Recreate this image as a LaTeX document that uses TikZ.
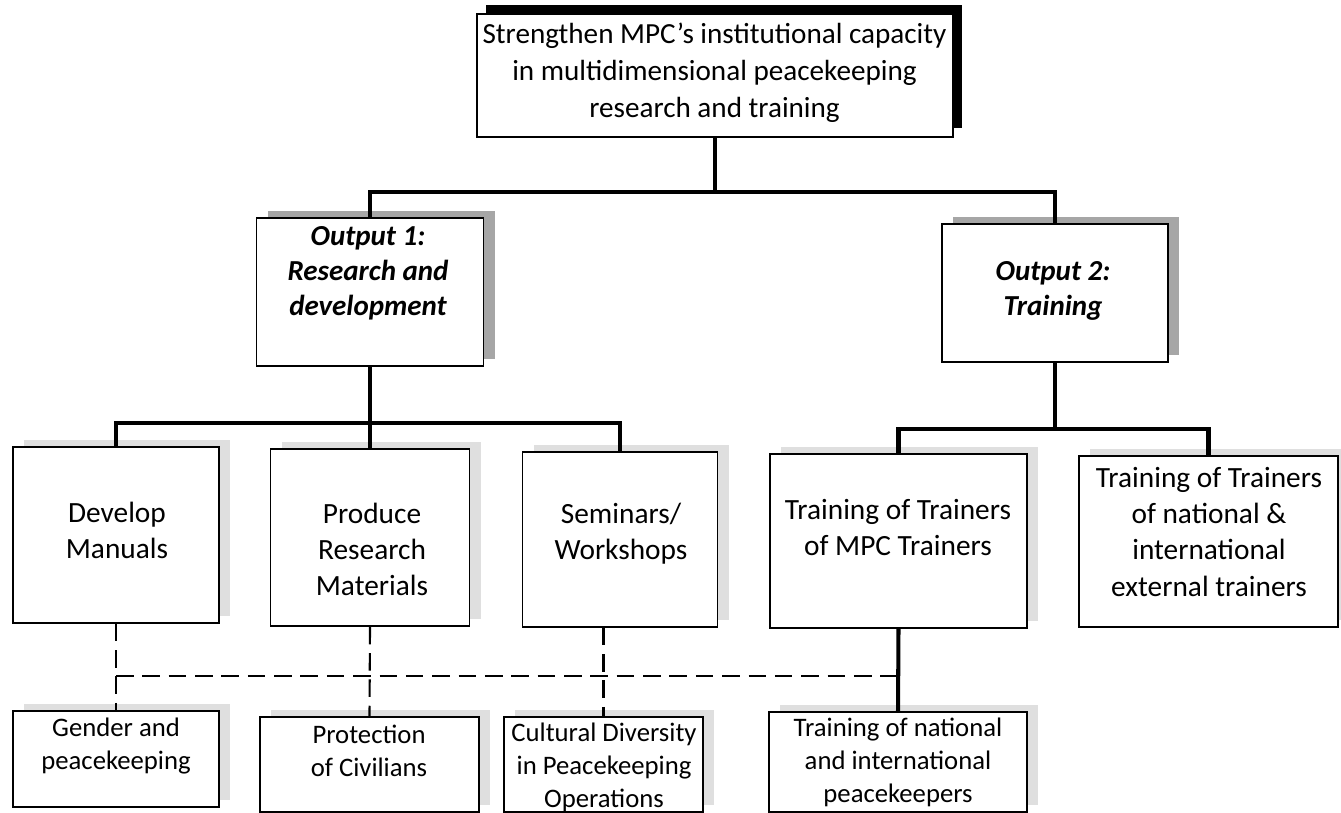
\documentclass[tikz,border=0pt]{standalone}
\usepackage{fontspec}
\setmainfont{Carlito}
\usetikzlibrary{shadows,calc}

\tikzset{
  caja/.style={draw, line width=0.8pt, fill=white, inner sep=0pt},
  cajasup/.style={caja,
    drop shadow={shadow xshift=5pt, shadow yshift=5pt, fill=black, opacity=1}},
  cajaout/.style={caja,
    drop shadow={shadow xshift=6.5pt, shadow yshift=4pt, fill=gray!70, opacity=1}},
  cajasub/.style={caja,
    drop shadow={shadow xshift=6.5pt, shadow yshift=4pt, fill=gray!25, opacity=1}},
  enlace/.style={line width=2.3pt},
  punteado/.style={line width=1.2pt, dash pattern=on 10pt off 5pt},
  textosup/.style={align=center, font=\fontsize{16.6}{21.3}\selectfont},
  textoout/.style={align=center, font=\fontsize{16.5}{19.9}\selectfont\bfseries\itshape},
  textomed/.style={align=center, font=\fontsize{16.7}{20.5}\selectfont},
  textoinf/.style={align=center, font=\fontsize{15.2}{18.8}\selectfont}
}

\begin{document}
\begin{tikzpicture}[x=0.02cm, y=-0.02cm]

  \useasboundingbox (0,0) rectangle (1341,813);

  % Objetivo
  \node[cajasup, minimum width=9.52cm, minimum height=2.46cm]
    (obj) at (715,75.5) {};

  % Productos
  \node[cajaout, minimum width=4.54cm, minimum height=2.96cm]
    (out1) at (370,292) {};
  \node[cajaout, minimum width=4.52cm, minimum height=2.76cm]
    (out2) at (1055,293) {};

  % Actividades
  \node[cajasub, minimum width=4.12cm, minimum height=3.52cm]
    (dev) at (116,535) {};
  \node[cajasub, minimum width=3.98cm, minimum height=3.54cm]
    (prod) at (370,537.5) {};
  \node[cajasub, minimum width=3.90cm, minimum height=3.50cm]
    (sem) at (620,539.5) {};
  \node[cajasub, minimum width=5.14cm, minimum height=3.48cm]
    (tmpc) at (898.5,541) {};
  \node[cajasub, minimum width=5.18cm, minimum height=3.42cm]
    (text) at (1208.5,541.5) {};

  % Temas
  \node[cajasub, minimum width=4.12cm, minimum height=1.92cm]
    (gender) at (116,759) {};
  \node[cajasub, minimum width=4.38cm, minimum height=1.90cm]
    (prot) at (369.5,764.5) {};
  \node[cajasub, minimum width=3.98cm, minimum height=1.90cm]
    (cult) at (603.5,764.5) {};
  \node[cajasub, minimum width=5.16cm, minimum height=2.00cm]
    (tnat) at (898,762) {};

  % Enlaces
  \draw[enlace] (obj.south) -- ++(0,54) -| (out1.north);
  \draw[enlace] (obj.south) -- ++(0,54) -| (out2.north);

  \draw[enlace] (out1.south) -- ++(0,56) -| (dev.north);
  \draw[enlace] (out1.south) -- ++(0,56) -| (prod.north);
  \draw[enlace] (out1.south) -- ++(0,56) -| (sem.north);

  \draw[enlace] (out2.south) -- ++(0,66) -| (tmpc.north);
  \draw[enlace] (out2.south) -- ++(0,66) -| (text.north);

  \draw[enlace] (tmpc.south) -- (tnat.north);

  % Enlaces punteados
  \draw[punteado] (dev.south) -- (gender.north);
  \draw[punteado] (prod.south) -- (prot.north);
  \draw[punteado] (cult.north |- sem.south) -- (cult.north);

  \coordinate (cruce) at ($(dev.south)!0.6!(gender.north)$);
  \draw[punteado] (cruce) -- (cruce -| tnat.north);

  % Textos
  \node[textosup] (objt) at (714.5,72.7)
    {Strengthen MPC’s institutional capacity\\in multidimensional peacekeeping\\research and training};

  \node[textoout] (out1t) at (368,273)
    {Output 1:\\Research and\\development};
  \node[textoout] (out2t) at (1053,290.5)
    {Output 2:\\Training};

  \node[textomed] (devt) at (117,530) {Develop\\Manuals};
  \node[textomed] (prodt) at (372,549) {Produce\\Research\\Materials};
  \node[textomed] (semt) at (621,533.5) {Seminars/\\Workshops};
  \node[textomed] (tmpct) at (898,527.5) {Training of Trainers\\of MPC Trainers};
  \node[textomed] (textt) at (1209,532)
    {Training of Trainers\\of national \&\\international\\external trainers};

  \node[textoinf] (gendert) at (116,746.5) {Gender and\\peacekeeping};
  \node[textoinf] (prott) at (369,751) {Protection\\of Civilians};
  \node[textoinf] (cultt) at (604,767)
    {Cultural Diversity\\in Peacekeeping\\Operations};
  \node[textoinf] (tnatt) at (898,762)
    {Training of national\\and international\\peacekeepers};

\end{tikzpicture}
\end{document}
